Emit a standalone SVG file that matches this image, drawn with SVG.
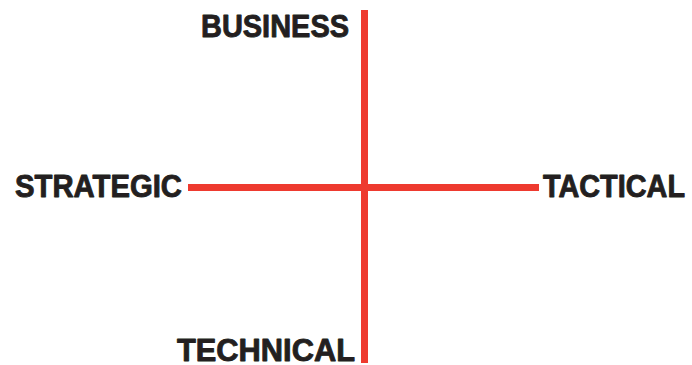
<svg xmlns="http://www.w3.org/2000/svg" width="692" height="365" viewBox="0 0 692 365">
<style>
.lbl{font-family:"Liberation Sans",Arial,sans-serif;font-weight:bold;font-size:31px;fill:#231f20;stroke:#231f20;stroke-width:0.9;stroke-linejoin:round}
.axis{stroke:#ee3a2f;stroke-width:7;fill:none}
</style>
<rect width="692" height="365" fill="#ffffff"/>
<g id="connectors">
<line class="axis" x1="364.5" y1="10" x2="364.5" y2="363"/>
<line class="axis" x1="188" y1="187.5" x2="539" y2="187.5"/>
</g>
<g id="business"><text class="lbl" x="201" y="37" textLength="148" lengthAdjust="spacingAndGlyphs">BUSINESS</text></g>
<g id="strategic"><text class="lbl" x="15" y="197" textLength="167" lengthAdjust="spacingAndGlyphs">STRATEGIC</text></g>
<g id="tactical"><text class="lbl" x="543" y="197" textLength="142" lengthAdjust="spacingAndGlyphs">TACTICAL</text></g>
<g id="technical"><text class="lbl" x="177" y="361" textLength="178" lengthAdjust="spacingAndGlyphs">TECHNICAL</text></g>
</svg>
